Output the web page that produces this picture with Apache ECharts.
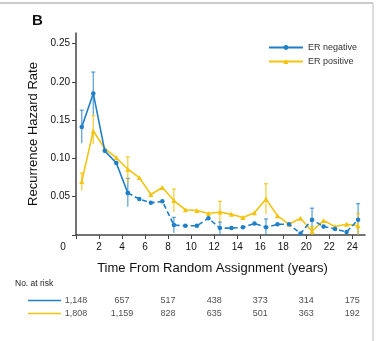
<!DOCTYPE html>
<html><head><meta charset="utf-8">
<script src="https://cdn.jsdelivr.net/npm/echarts@6/dist/echarts.min.js"></script>
<style>html,body{margin:0;padding:0;background:#fff}#c{width:378px;height:341px}</style>
</head><body><div id="c"></div>
<script>
const years = [0.5,1.5,2.5,3.5,4.5,5.5,6.5,7.5,8.5,9.5,10.5,11.5,12.5,13.5,14.5,15.5,16.5,17.5,18.5,19.5,20.5,21.5,22.5,23.5,24.5];
const erNegative = [0.141,0.185,0.110,0.094,0.055,0.047,0.042,0.044,0.013,0.012,0.012,0.022,0.009,0.009,0.010,0.015,0.010,0.014,0.014,0.002,0.020,0.011,0.008,0.004,0.020];
const erPositive = [0.070,0.136,0.113,0.101,0.086,0.075,0.053,0.062,0.045,0.033,0.032,0.028,0.030,0.027,0.023,0.029,0.047,0.025,0.014,0.022,0.005,0.019,0.011,0.014,0.012];
const errNegative = [[0.5,0.120,0.163],[1.5,0.157,0.213],[4.5,0.037,0.074],[8.5,0.003,0.023],[12.5,0,0.017],[16.5,0,0.021],[20.5,0,0.035],[24.5,0,0.041]];
const errPositive = [[0.5,0.058,0.081],[1.5,0.119,0.156],[4.5,0.068,0.102],[8.5,0.030,0.060],[12.5,0.017,0.044],[16.5,0.027,0.067],[20.5,0,0.011],[24.5,0,0.028]];
const riskYears = [0,4,8,12,16,20,24];
const riskNegative = ['1,148','657','517','438','373','314','175'];
const riskPositive = ['1,808','1,159','828','635','501','363','192'];
const xTicks = [0,2,4,6,8,10,12,14,16,18,20,22,24];

const BLUE = '#1f7fc9', YEL = '#f3c30f';
const FONT = 'Liberation Sans';
const chart = echarts.init(document.getElementById('c'), null, {renderer:'canvas'});

function errRender(color){
  return function(params, api){
    const x = api.value(0);
    const p1 = api.coord([x, api.value(1)]);
    const p2 = api.coord([x, api.value(2)]);
    const st = {stroke: color, lineWidth: 1.3};
    return {type:'group', children:[
      {type:'line', shape:{x1:p1[0],y1:p1[1],x2:p2[0],y2:p2[1]}, style:st},
      {type:'line', shape:{x1:p2[0]-2,y1:p2[1],x2:p2[0]+2,y2:p2[1]}, style:st}
    ]};
  };
}
const negSolidEnd = 5;
const negData = years.map((y,i)=>[y, erNegative[i]]);
const posData = years.map((y,i)=>[y, erPositive[i]]);
const riskData = [];
riskYears.forEach((y,i)=>{ riskData.push([y,0,riskNegative[i]]); riskData.push([y,1,riskPositive[i]]); });

chart.setOption({
  animation:false,
  backgroundColor:'#fff',
  textStyle:{fontFamily:FONT},
  title:{text:'B', left:27, top:8, textStyle:{fontSize:15, fontWeight:'bold', color:'#111', fontFamily:FONT}},
  legend:{
    top:38, right:16, orient:'vertical', itemWidth:34, itemHeight:6, itemGap:5,
    textStyle:{fontSize:9, color:'#333', fontFamily:FONT},
    data:['ER negative','ER positive']
  },
  grid:[
    {left:76, right:13, top:33, bottom:106},
    {left:76, right:13, top:294, height:26}
  ],
  xAxis:[
    {type:'value', gridIndex:0, min:0, max:25.1, interval:2,
     name:'Time From Random Assignment (years)', nameLocation:'middle', nameGap:27,
     nameTextStyle:{fontSize:13, color:'#111', fontFamily:FONT, padding:[0,16,0,0]},
     axisLine:{lineStyle:{color:'#444', width:1.5}},
     axisTick:{show:true, length:4, lineStyle:{color:'#444'}},
     splitLine:{show:false},
     axisLabel:{fontSize:10, color:'#111', margin:7, showMaxLabel:false,
       formatter:function(v){ return v===0 ? '{z|0}' : (xTicks.indexOf(v)>=0 ? String(v) : ''); },
       rich:{z:{fontSize:10, color:'#111', padding:[0,26,0,0]}}}
    },
    {type:'value', gridIndex:1, min:0, max:25.1, show:false}
  ],
  yAxis:[
    {type:'value', gridIndex:0, min:0, max:0.264, interval:0.05,
     name:'Recurrence Hazard Rate', nameLocation:'middle', nameGap:35,
     nameTextStyle:{fontSize:13, color:'#111', fontFamily:FONT},
     axisLine:{show:true, lineStyle:{color:'#444', width:1.5}},
     axisTick:{show:true, length:4, lineStyle:{color:'#444'}},
     splitLine:{show:false},
     axisLabel:{fontSize:10, color:'#111', margin:6, showMaxLabel:false,
       formatter:function(v){ return v===0 ? '' : v.toFixed(2); }}
    },
    {type:'category', gridIndex:1, data:['ER negative','ER positive'], inverse:true, show:false}
  ],
  series:[
    {type:'custom', xAxisIndex:0, yAxisIndex:0, renderItem:errRender('rgba(31,127,201,0.7)'), data:errNegative, z:1, silent:true},
    {type:'custom', xAxisIndex:0, yAxisIndex:0, renderItem:errRender('rgba(243,195,15,0.8)'), data:errPositive, z:1, silent:true},
    {name:'ER positive', type:'line', data:posData, symbol:'triangle', symbolSize:5,
     lineStyle:{color:YEL, width:1.6}, itemStyle:{color:YEL}, z:3},
    {name:'ER negative', type:'line', data:negData.slice(0,negSolidEnd), symbol:'circle', symbolSize:4.5,
     lineStyle:{color:BLUE, width:1.6}, itemStyle:{color:BLUE}, z:4},
    {name:'ER negative', type:'line', data:negData.slice(negSolidEnd-1), symbol:'circle', symbolSize:4.5,
     lineStyle:{color:BLUE, width:1.6, type:[5,3]}, itemStyle:{color:BLUE}, z:4},
    {type:'scatter', xAxisIndex:1, yAxisIndex:1, data:riskData, symbolSize:0, silent:true,
     label:{show:true, position:'inside', fontSize:9, color:'#222', formatter:function(p){return p.value[2];}}}
  ],
  graphic:[
    {type:'text', left:15, top:279, style:{text:'No. at risk', fontSize:8.5, fill:'#222', fontFamily:FONT}},
    {type:'line', shape:{x1:28,y1:300.5,x2:61,y2:300.5}, style:{stroke:BLUE, lineWidth:1.3}},
    {type:'line', shape:{x1:28,y1:313.5,x2:61,y2:313.5}, style:{stroke:YEL, lineWidth:1.3}},
    {type:'line', shape:{x1:0,y1:3,x2:373,y2:3}, style:{stroke:'#999', lineWidth:1}},
    {type:'line', shape:{x1:373,y1:3,x2:373,y2:341}, style:{stroke:'#bbb', lineWidth:1}}
  ]
});
</script></body></html>
